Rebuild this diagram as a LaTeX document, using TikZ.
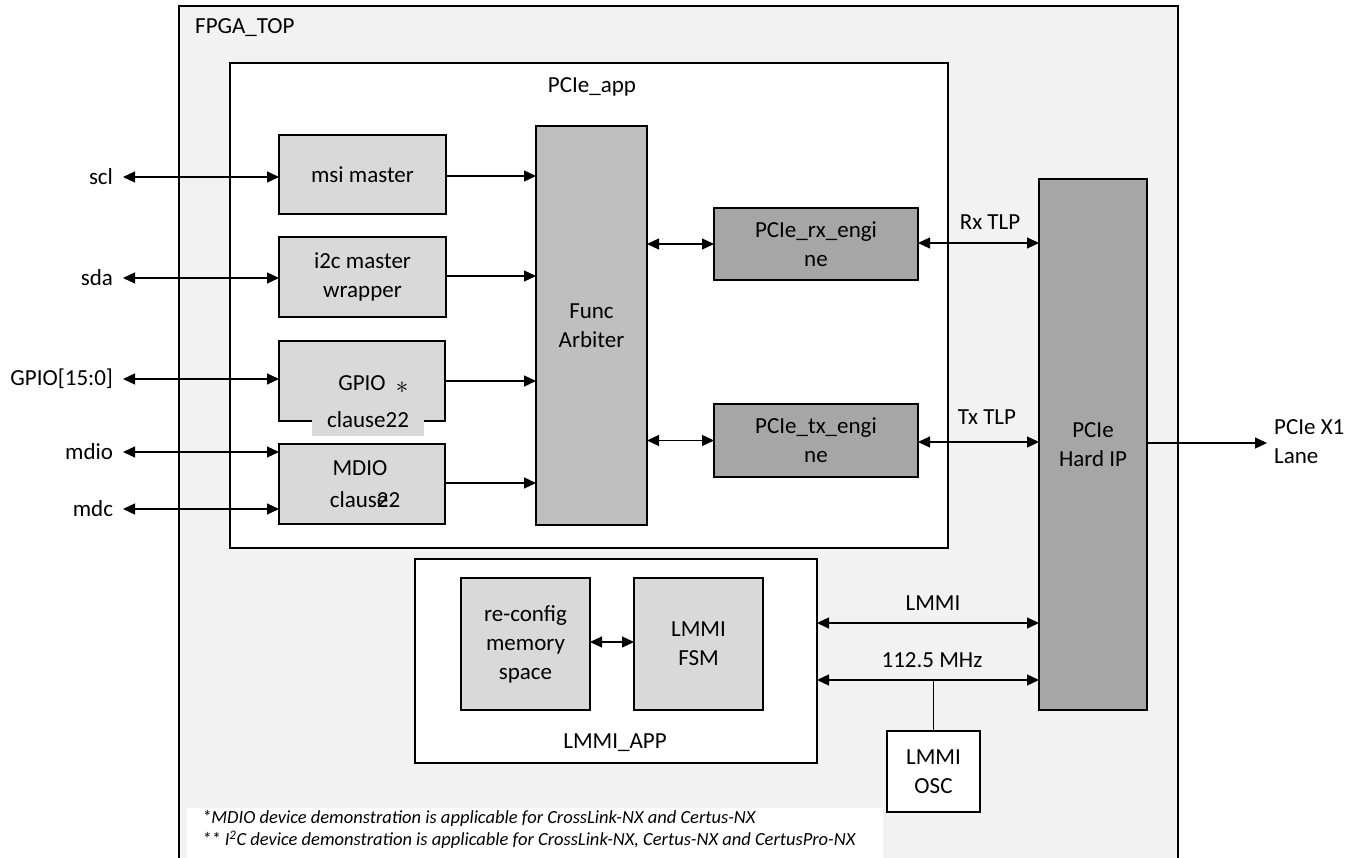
\documentclass[tikz,border=0pt]{standalone}
\usepackage{fontspec}
\setmainfont{Carlito}
\usetikzlibrary{arrows.meta}

\definecolor{topfill}{HTML}{F2F2F2}
\definecolor{lightfill}{HTML}{D9D9D9}
\definecolor{midfill}{HTML}{BFBFBF}
\definecolor{darkfill}{HTML}{A6A6A6}

\tikzset{
  base/.style={font=\fontsize{23}{29}\selectfont},
  blk/.style={base, draw=black, line width=1.2pt, inner sep=0pt, outer sep=0pt,
              anchor=north west, align=center},
  lightbox/.style={blk, fill=lightfill},
  midbox/.style={blk, fill=midfill},
  darkbox/.style={blk, fill=darkfill},
  whitebox/.style={blk, fill=white},
  lbl/.style={base, inner xsep=10pt, inner ysep=0pt, outer sep=0pt},
  tag/.style={base, inner sep=0pt, align=center},
  tip/.tip={Triangle[length=12pt,width=11pt]},
  arr/.style={line width=1.3pt, -tip},
  dbl/.style={line width=1.3pt, tip-tip},
  wire/.style={line width=1.3pt}
}

\begin{document}
\begin{tikzpicture}[x=1pt, y=-1pt]
\useasboundingbox (0,0) rectangle (1361,858);
\clip (0,0) rectangle (1361,858);

% top-level FPGA region (runs past the bottom edge)
\node[blk, fill=topfill, minimum width=999pt, minimum height=880pt] (fpga) at (179,6) {};
\node[tag, anchor=west] (fpgalbl) at (195,28) {FPGA\_TOP};

% PCIe application block
\node[whitebox, minimum width=718pt, minimum height=485pt] (app) at (230,63) {};
\node[tag] (applbl) at (592,87) {PCIe\_app};

\node[lightbox, minimum width=167pt, minimum height=79pt] (msi) at (279,135) {msi master};
\node[lightbox, minimum width=167pt, minimum height=80pt] (i2c) at (279,237) {i2c master\\wrapper};
\node[lightbox, minimum width=166pt, minimum height=80pt] (gpio) at (279,341) {};
\node[tag] (gpiotxt) at (362,383) {GPIO};
\node[tag] (gpiostar) at (402,388) {$\ast$};
\node[fill=lightfill, inner sep=0pt, minimum width=112pt, minimum height=34pt, anchor=north west] (gpiocl) at (312,402) {};
\node[tag] (gpiocltxt) at (368,420) {clause22};
\node[lightbox, minimum width=166pt, minimum height=80pt] (mdio) at (279,444) {};
\node[tag] (mdiotxt) at (360,468) {MDIO};
\node[tag] (mdiocl) at (365,500) {claus\rlap{e}22};

\node[midbox, minimum width=111pt, minimum height=399pt] (arb) at (536,126) {Func\\Arbiter};

\node[darkbox, minimum width=204pt, minimum height=72pt] (rx) at (714,208) {PCIe\_rx\_engi\\ne};
\node[darkbox, minimum width=204pt, minimum height=73pt] (tx) at (714,404) {PCIe\_tx\_engi\\ne};

\node[darkbox, minimum width=108pt, minimum height=531pt] (hip) at (1039,179) {PCIe\\Hard IP};

% LMMI application block
\node[whitebox, minimum width=402pt, minimum height=204pt] (lapp) at (415,559) {};
\node[tag] (lapplbl) at (615,743) {LMMI\_APP};
\node[lightbox, minimum width=129pt, minimum height=132pt] (mem) at (461,578) {re-config\\memory\\space};
\node[lightbox, minimum width=129pt, minimum height=132pt] (fsm) at (634,578) {LMMI\\FSM};

\node[whitebox, minimum width=93pt, minimum height=81pt] (osc) at (887,731) {LMMI\\OSC};

% external pins
\node[lbl, anchor=east] (scl) at (123,177) {scl};
\node[lbl, anchor=east] (sda) at (123,278) {sda};
\node[lbl, anchor=east] (gpiopin) at (123,379) {GPIO[15:0]};
\node[lbl, anchor=east] (mdiopin) at (123,452) {mdio};
\node[lbl, anchor=east] (mdc) at (123,509) {mdc};

\draw[dbl] (scl.east) -- (msi.west |- scl.east);
\draw[dbl] (sda.east) -- (i2c.west |- sda.east);
\draw[dbl] (gpiopin.east) -- (gpio.west |- gpiopin.east);
\draw[dbl] (mdiopin.east) -- (mdio.west |- mdiopin.east);
\draw[dbl] (mdc.east) -- (mdio.west |- mdc.east);

% into the arbiter
\draw[arr] (msi.east |- 0,176) -- (arb.west |- 0,176);
\draw[arr] (i2c.east |- 0,276) -- (arb.west |- 0,276);
\draw[arr] (gpio.east |- 0,381) -- (arb.west |- 0,381);
\draw[arr] (mdio.east |- 0,483) -- (arb.west |- 0,483);

\draw[dbl] (arb.east |- rx.west) -- (rx.west);
\draw[dbl] (arb.east |- tx.west) -- (tx.west);

% TLP links to the hard IP
\draw[dbl] (rx.east |- 0,243) -- (hip.west |- 0,243);
\node[tag] (rxlbl) at (990,222) {Rx TLP};
\draw[dbl] (tx.east |- 0,442) -- (hip.west |- 0,442);
\node[tag] (txlbl) at (987,417) {Tx TLP};

% serial lane
\coordinate (laneend) at (1267,443);
\draw[arr] (hip.east |- laneend) -- (laneend);
\node[tag, anchor=west, align=left] (lane) at (1274,442) {PCIe X1\\Lane};

% LMMI links
\draw[dbl] (mem.east |- 0,642) -- (fsm.west |- 0,642);
\draw[dbl] (lapp.east |- 0,623) -- (hip.west |- 0,623);
\node[tag] (lmmilbl) at (933,603) {LMMI};
\draw[dbl] (lapp.east |- 0,680) -- (hip.west |- 0,680);
\node[tag] (clklbl) at (932,660) {112.5 MHz};
\coordinate (clktap) at (osc.north |- 0,680);
\draw[wire] (osc.north) -- (clktap);

% footnotes
\node[fill=white, inner sep=0pt, minimum width=696pt, minimum height=60pt, anchor=north west] (notes) at (187,808) {};
\node[anchor=north west, inner sep=0pt, align=left, font=\fontsize{18.5}{22}\selectfont\itshape] (notetxt) at (202,810)
  {*MDIO device demonstration is applicable for CrossLink-NX and Certus-NX\\
   ** I\textsuperscript{2}C device demonstration is applicable for CrossLink-NX, Certus-NX and CertusPro-NX};
\end{tikzpicture}
\end{document}
